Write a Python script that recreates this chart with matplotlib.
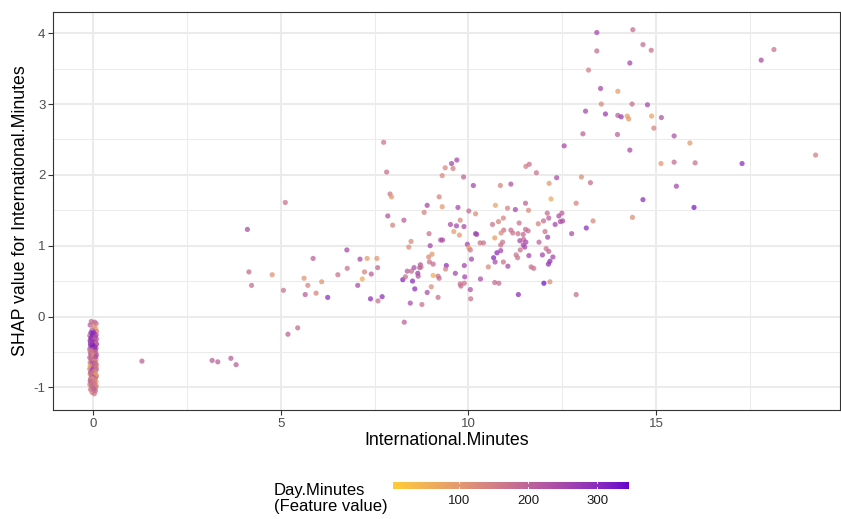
import numpy as np
import matplotlib
matplotlib.use("Agg")
import matplotlib.pyplot as plt
from matplotlib.colors import ListedColormap, Normalize

plt.rcParams['font.family'] = ['Liberation Sans', 'DejaVu Sans']
plt.rcParams['axes.unicode_minus'] = False

# ---------------- data ----------------
# points at International.Minutes ~ 0 (jittered column)
zero_x = [-0.05, 0.04, 0.08, -0.08, 0.02, 0.07, -0.03, 0.09,
          -0.06, 0.03, 0.08, -0.09, 0.00, 0.05, -0.04, 0.09, -0.08, 0.02, 0.06, -0.02, 0.09, -0.07, 0.04, -0.05, 0.01, 0.08, -0.09, 0.05,
          -0.03, 0.07, -0.07, 0.02, 0.09, -0.05, 0.04, -0.09, 0.00, 0.08, -0.04, 0.05, -0.08, 0.02, 0.09, -0.02, 0.06, -0.06, 0.03, -0.09, 0.08, 0.00, -0.05, 0.05,
          -0.08, 0.02, 0.09, -0.03, 0.06, -0.07, 0.03, -0.01, 0.08, -0.06, 0.04, -0.09, 0.07, 0.00, -0.04, 0.05, -0.07, 0.02, 0.06, -0.03, 0.03,
          0.01, -0.02, 0.06, -0.06, 0.03, -0.01, 0.07, -0.04, 0.02, -0.08, 0.05, -0.01, 0.07, -0.06, 0.03, -0.03, 0.06, -0.08, 0.01, 0.08, -0.02, 0.04, -0.07, 0.01, 0.07, -0.05, 0.00, -0.02, 0.05, -0.08, 0.02, -0.05, 0.08, 0.01, -0.02, 0.05, -0.07]
zero_y = [-0.07, -0.08, -0.10, -0.12, -0.14, -0.17, -0.19, -0.21,
          -0.23, -0.24, -0.26, -0.27, -0.28, -0.30, -0.31, -0.32, -0.34, -0.35, -0.36, -0.38, -0.39, -0.40, -0.41, -0.43, -0.44, -0.45, -0.46, -0.47,
          -0.49, -0.50, -0.52, -0.53, -0.54, -0.56, -0.57, -0.58, -0.60, -0.61, -0.62, -0.64, -0.65, -0.66, -0.68, -0.69, -0.70, -0.72, -0.73, -0.74, -0.75, -0.77, -0.78, -0.79,
          -0.81, -0.82, -0.84, -0.85, -0.86, -0.88, -0.89, -0.91, -0.92, -0.93, -0.95, -0.96, -0.97, -0.99, -1.00, -1.01, -1.03, -1.04, -1.05, -1.07, -1.09,
          -0.22, -0.25, -0.28, -0.30, -0.33, -0.36, -0.38, -0.42, -0.46, -0.49, -0.52, -0.55, -0.57, -0.60, -0.63, -0.66, -0.67, -0.70, -0.71, -0.72, -0.75, -0.77, -0.79, -0.80, -0.82, -0.84, -0.86, -0.88, -0.90, -0.91, -0.94, -0.97, -0.99, -1.02, -0.40, -0.43, -0.37]
zero_c = [180, 200, 170, 210, 120, 90, 190, 140,
          300, 260, 220, 180, 320, 280, 250, 200, 300, 330, 270, 240, 290, 310, 230, 280, 260, 150, 220, 300,
          200, 170, 240, 90, 190, 260, 150, 200, 220, 70, 180, 230, 160, 270, 130, 200, 100, 210, 180, 140, 240, 60, 190, 160,
          110, 200, 150, 80, 220, 170, 120, 190, 60, 150, 210, 130, 100, 170, 140, 190, 160, 110, 180, 150, 170,
          280, 310, 240, 290, 200, 300, 170, 250, 190, 150, 210, 120, 250, 180, 140, 230, 190, 80, 210, 160, 260, 130, 200, 170, 90, 180, 230, 100, 150, 200, 160, 180, 140, 200, 330, 300, 260]

# remaining points: International.Minutes, SHAP value, Day.Minutes
intl_min = [1.30, 3.17, 3.32, 3.67, 3.81, 5.19, 5.45, 7.74, 7.82, 7.91, 7.95, 5.12, 4.11, 7.85, 8.28, 7.98, 8.47, 8.41,
            6.76, 5.86, 7.11, 7.30, 7.56, 4.15, 4.77, 6.77, 7.23, 7.58, 7.41, 7.17, 6.52, 5.62, 5.72, 6.09, 4.22, 5.07,
            5.65, 5.94, 6.25, 7.05, 7.39, 7.70, 7.59, 8.25, 8.32, 8.37, 8.48, 8.55, 8.51, 8.57, 8.65, 8.66, 8.72, 8.74,
            8.45, 8.29, 9.69, 9.55, 9.38, 9.59, 9.30, 9.87, 10.13, 9.22, 8.90, 9.30, 9.72, 8.82, 10.01, 10.19, 9.78, 9.52,
            9.68, 9.88, 9.61, 8.95, 9.76, 10.19, 10.22, 9.26, 9.31, 8.98, 9.97, 10.01, 10.05, 9.03, 8.94, 10.08, 8.70, 8.96,
            9.06, 9.41, 9.39, 9.89, 9.06, 9.19, 9.22, 9.65, 9.90, 10.32, 9.01, 9.78, 9.80, 9.89, 10.05, 8.90, 9.19, 10.06,
            8.76, 10.70, 10.81, 11.33, 12.01, 12.17, 11.53, 11.62, 11.81, 12.35, 10.85, 11.13, 12.15, 12.20, 10.72, 11.04,
            11.25, 11.52, 11.60, 10.93, 10.80, 10.64, 11.35, 10.94, 10.87, 11.13, 11.18, 11.32, 11.52, 11.59, 11.46, 11.86,
            12.00, 12.10, 12.14, 12.31, 12.41, 12.45, 12.49, 10.70, 10.91, 10.86, 11.37, 11.47, 11.53, 11.46, 11.50, 11.38,
            11.88, 12.11, 12.07, 12.14, 12.25, 10.76, 10.86, 10.67, 10.71, 10.93, 10.53, 11.05, 11.27, 11.31, 11.61, 11.67,
            11.74, 11.97, 12.17, 12.13, 13.05, 13.97, 12.55, 14.30, 15.48, 15.90, 15.13, 15.48, 16.04, 13.01, 13.25, 15.54,
            12.87, 14.65, 16.01, 13.32, 14.37, 13.14, 12.75, 12.87, 12.04, 13.42, 14.38, 14.65, 14.87, 13.42, 14.30, 13.20,
            13.52, 13.98, 13.54, 14.36, 14.77, 13.12, 13.65, 13.98, 14.07, 14.23, 14.27, 14.88, 15.14, 14.94, 17.80, 18.14,
            19.25, 17.29, 10.31, 10.40, 12.51]
shap_val = [-0.63, -0.62, -0.64, -0.59, -0.68, -0.25, -0.16, 2.46, 2.04, 1.73, 1.69, 1.61, 1.23, 1.42, 1.36, 1.29, 1.06, 0.98,
            0.94, 0.82, 0.81, 0.82, 0.82, 0.63, 0.59, 0.68, 0.63, 0.69, 0.60, 0.53, 0.59, 0.54, 0.44, 0.49, 0.44, 0.37,
            0.31, 0.33, 0.27, 0.44, 0.25, 0.28, 0.22, 0.52, 0.56, 0.64, 0.64, 0.69, 0.50, 0.39, 0.61, 0.57, 0.73, 0.70,
            0.19, -0.08, 2.21, 2.16, 2.10, 2.09, 1.99, 1.97, 1.85, 1.69, 1.57, 1.55, 1.54, 1.47, 1.49, 1.45, 1.36, 1.30,
            1.28, 1.27, 1.20, 1.17, 1.15, 1.17, 1.16, 1.08, 1.08, 1.00, 1.02, 0.97, 0.94, 0.88, 0.84, 0.81, 0.69, 0.77,
            0.74, 0.72, 0.67, 0.72, 0.58, 0.57, 0.54, 0.61, 0.56, 0.53, 0.42, 0.46, 0.43, 0.47, 0.38, 0.34, 0.27, 0.25,
            0.17, 0.48, 0.47, 0.31, 0.47, 0.49, 2.12, 2.15, 2.03, 1.96, 1.85, 1.87, 1.88, 1.66, 1.57, 1.53,
            1.51, 1.60, 1.50, 1.39, 1.34, 1.30, 1.32, 1.22, 1.18, 1.22, 1.18, 1.17, 1.23, 1.21, 1.16, 1.31,
            1.35, 1.46, 1.39, 1.30, 1.42, 1.34, 1.46, 1.11, 1.05, 1.01, 1.07, 1.09, 1.05, 1.01, 0.98, 0.94,
            1.05, 1.12, 0.96, 0.92, 0.84, 0.90, 0.93, 0.83, 0.77, 0.77, 0.70, 0.71, 0.87, 0.83, 0.86, 0.70,
            0.68, 0.87, 0.78, 0.74, 2.58, 2.57, 2.41, 2.35, 2.55, 2.45, 2.16, 2.18, 2.17, 1.97, 1.89, 1.84,
            1.60, 1.65, 1.54, 1.35, 1.40, 1.25, 1.17, 0.31, 1.20, 4.01, 4.05, 3.84, 3.76, 3.75, 3.58, 3.48,
            3.22, 3.18, 3.00, 3.00, 2.99, 2.90, 2.86, 2.84, 2.82, 2.83, 2.79, 2.83, 2.81, 2.66, 3.62, 3.77,
            2.28, 2.16, 1.04, 1.04, 1.35]
day_min = [200, 210, 210, 210, 210, 200, 180, 170, 180, 160, 100, 170, 240, 230, 210, 140, 130, 120,
           250, 200, 250, 90, 100, 180, 110, 170, 140, 190, 210, 70, 170, 110, 140, 110, 180, 170,
           210, 140, 290, 240, 290, 290, 170, 300, 180, 210, 180, 240, 290, 290, 260, 220, 240, 130,
           240, 200, 250, 250, 130, 150, 130, 200, 250, 140, 250, 100, 250, 140, 180, 120, 130, 240,
           250, 240, 90, 170, 100, 280, 260, 240, 240, 250, 250, 80, 160, 100, 130, 250, 210, 170,
           180, 290, 140, 250, 60, 170, 180, 250, 250, 240, 120, 180, 180, 170, 230, 240, 170, 170,
           170, 180, 180, 290, 330, 120, 150, 170, 170, 240, 140, 230, 100, 70, 80, 140,
           250, 200, 130, 140, 140, 170, 170, 170, 130, 180, 170, 170, 180, 180, 190, 140,
           180, 180, 210, 250, 240, 240, 210, 90, 170, 170, 250, 190, 250, 250, 250, 170,
           200, 250, 170, 200, 250, 300, 250, 300, 240, 170, 130, 250, 170, 170, 250, 180,
           170, 250, 290, 290, 200, 200, 250, 240, 230, 100, 100, 180, 170, 120, 180, 250,
           140, 290, 320, 130, 120, 290, 240, 180, 170, 250, 180, 180, 170, 180, 250, 150,
           250, 90, 130, 180, 250, 250, 270, 210, 270, 90, 100, 80, 230, 140, 240, 170,
           150, 290, 170, 170, 240]

cbar_ticks = [100, 200, 300]
x_ticks = [0, 5, 10, 15]
y_ticks = [-1, 0, 1, 2, 3, 4]

# ---------------- colormap: Lab interpolation like ggplot ----------------
def srgb_to_lab(rgb):
    rgb = np.asarray(rgb, float)
    lin = np.where(rgb <= 0.04045, rgb / 12.92, ((rgb + 0.055) / 1.055) ** 2.4)
    M = np.array([[0.4124564, 0.3575761, 0.1804375],
                  [0.2126729, 0.7151522, 0.0721750],
                  [0.0193339, 0.1191920, 0.9503041]])
    xyz = M @ lin
    wp = np.array([0.95047, 1.0, 1.08883])
    t = xyz / wp
    f = np.where(t > (6/29)**3, np.cbrt(t), t / (3*(6/29)**2) + 4/29)
    return np.array([116*f[1]-16, 500*(f[0]-f[1]), 200*(f[1]-f[2])])

def lab_to_srgb(lab):
    L, a, b = lab
    fy = (L + 16) / 116
    fx = fy + a / 500
    fz = fy - b / 200
    def finv(f):
        return np.where(f > 6/29, f**3, 3*(6/29)**2*(f - 4/29))
    wp = np.array([0.95047, 1.0, 1.08883])
    xyz = np.array([finv(fx), finv(fy), finv(fz)]) * wp
    Minv = np.array([[3.2404542, -1.5371385, -0.4985314],
                     [-0.9692660, 1.8760108, 0.0415560],
                     [0.0556434, -0.2040259, 1.0572252]])
    lin = Minv @ xyz
    lin = np.clip(lin, 0, 1)
    rgb = np.where(lin <= 0.0031308, 12.92*lin, 1.055*lin**(1/2.4) - 0.055)
    return np.clip(rgb, 0, 1)

low = np.array([0xFF, 0xCC, 0x33]) / 255
high = np.array([0x66, 0x00, 0xCC]) / 255
lab_lo, lab_hi = srgb_to_lab(low), srgb_to_lab(high)
cols = [lab_to_srgb(lab_lo + (lab_hi - lab_lo) * t) for t in np.linspace(0, 1, 256)]
cmap = ListedColormap(cols)
norm = Normalize(vmin=5, vmax=346)

# ---------------- figure ----------------
W, H = 841, 519
fig = plt.figure(figsize=(W/100, H/100), dpi=100)
ax = fig.add_axes([53/W, 1-410/H, 787/W, 398/H])

ax.set_xlim(-1.07, 19.9)
ax.set_ylim(-1.32, 4.30)
ax.set_xticks(x_ticks)
ax.set_yticks(y_ticks)
ax.set_xticks([2.5, 7.5, 12.5, 17.5], minor=True)
ax.set_yticks([-0.5, 0.5, 1.5, 2.5, 3.5], minor=True)
ax.grid(True, which='major', color='#EBEBEB', lw=1.5)
ax.grid(True, which='minor', color='#EBEBEB', lw=0.75)
ax.set_axisbelow(True)
ax.tick_params(which='minor', length=0)
ax.tick_params(which='major', length=3.5, width=0.8, color='#333333',
               labelsize=9.5, labelcolor='#4D4D4D', pad=2)
for s in ax.spines.values():
    s.set_color('#333333')
    s.set_linewidth(0.8)

ax.scatter(zero_x, zero_y, c=zero_c, cmap=cmap, norm=norm, s=14, alpha=0.75, lw=0)
ax.scatter(intl_min, shap_val, c=day_min, cmap=cmap, norm=norm, s=14, alpha=0.75, lw=0)

ax.set_xlabel('International.Minutes', fontsize=12.8, labelpad=2)
ax.set_ylabel('SHAP value for International.Minutes', fontsize=12.8, labelpad=3)

# colorbar legend
cax = fig.add_axes([393/W, 1-488.5/H, 236/W, 7/H])
grad = np.linspace(5, 346, 512).reshape(1, -1)
cax.imshow(grad, aspect='auto', cmap=cmap, norm=norm, extent=[5, 346, 0, 1])
cax.set_xlim(5, 346)
cax.set_ylim(0, 1)
for t in cbar_ticks:
    cax.plot([t, t], [0, 0.2], color='white', lw=0.6)
    cax.plot([t, t], [0.8, 1], color='white', lw=0.6)
cax.set_xticks(cbar_ticks)
cax.set_xticklabels([str(t) for t in cbar_ticks])
cax.set_yticks([])
cax.tick_params(axis='x', length=0, labelsize=9.5, labelcolor='#1A1A1A', pad=5)
for s in cax.spines.values():
    s.set_visible(False)

fig.text(274/W, 1-498.5/H, 'Day.Minutes\n(Feature value)', fontsize=12,
         ha='left', va='center', linespacing=1.0)

fig.savefig('out.png', dpi=100)
